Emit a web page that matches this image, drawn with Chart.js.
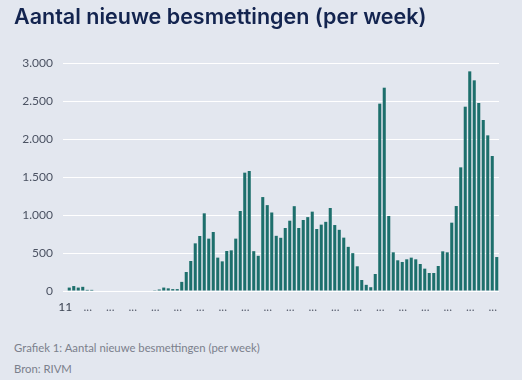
<!DOCTYPE html>
<html>
<head>
<meta charset="utf-8">
<script src="https://cdn.jsdelivr.net/npm/chart.js@4"></script>
<style>
  html, body { margin: 0; padding: 0; background: #e3e7ef; }
  #wrap { position: absolute; left: 0; top: 0; width: 522px; height: 330px; }
  .note { position: absolute; left: 14px; font-family: Lato, sans-serif; font-size: 11.3px; color: #7b808c; }
</style>
</head>
<body>
<div id="wrap"><canvas id="chart"></canvas></div>
<div class="note" style="top: 341px;">Grafiek 1: Aantal nieuwe besmettingen (per week)</div>
<div class="note" style="top: 362px;">Bron: RIVM</div>
<script>
// weeknummers vanaf week 11 (2020)
const weeks = [
    '11','12','13','14','15','16','17','18','19','20','21','22','23','24','25','26','27','28','29','30',
    '31','32','33','34','35','36','37','38','39','40','41','42','43','44','45','46','47','48','49','50',
    '51','52','53','1','2','3','4','5','6','7','8','9','10','11','12','13','14','15','16','17',
    '18','19','20','21','22','23','24','25','26','27','28','29','30','31','32','33','34','35','36','37',
    '38','39','40','41','42','43','44','45','46','47','48','49','50','51','52','1'
];

// nieuwe besmettingen per week
const infections = [
    45, 65, 45, 55, 15, 15, 0, 0, 0, 0, 0, 0, 0, 0, 0, 0, 0, 0, 0, 10,
    20, 45, 35, 25, 25, 120, 250, 395, 627, 724, 1022, 689, 776, 439, 390, 526, 535, 689, 1053, 1557,
    1579, 524, 463, 1236, 1130, 1033, 726, 700, 829, 925, 1116, 829, 934, 972, 1044, 816, 873, 910, 1092, 868,
    805, 702, 581, 498, 325, 145, 81, 50, 224, 2465, 2675, 987, 509, 404, 382, 417, 439, 417, 355, 294,
    237, 237, 329, 522, 509, 899, 1118, 1627, 2425, 2890, 2772, 2474, 2250, 2048, 1776, 447
];

// zichtbare labels onder de x-as (elke 5e week)
const tickLabels = ['11', '...', '...', '...', '...', '...', '...', '...', '...', '...',
                    '...', '...', '...', '...', '...', '...', '...', '...', '...', '...'];

const yTicks = [0, 500, 1000, 1500, 2000, 2500, 3000];

// duizendtallen met een punt
function formatNL(v) {
    return String(v).replace(/\B(?=(\d{3})+(?!\d))/g, '.');
}

const ctx = document.getElementById('chart').getContext('2d');
new Chart(ctx, {
    type: 'bar',
    data: {
        labels: weeks,
        datasets: [{
            label: 'Nieuwe besmettingen',
            data: infections,
            backgroundColor: '#1d6f6c',
            barPercentage: 0.68,
            categoryPercentage: 1.0
        }]
    },
    options: {
        responsive: true,
        maintainAspectRatio: false,
        animation: false,
        layout: { padding: { left: 14, right: 23, top: 0, bottom: 15 } },
        plugins: {
            legend: { display: false },
            tooltip: { enabled: false },
            title: {
                display: true,
                text: 'Aantal nieuwe besmettingen (per week)',
                align: 'start',
                color: '#13244f',
                font: { family: 'Inter', size: 21.5, weight: '600' },
                padding: { top: 5, bottom: 32.2 }
            }
        },
        scales: {
            x: {
                grid: { display: false, drawTicks: false },
                border: { display: false },
                ticks: {
                    autoSkip: false,
                    maxRotation: 0,
                    padding: 9,
                    labelOffset: -4,
                    font: { family: 'Lato', size: 12 },
                    color: c => c.index === 0 ? '#3c4352' : '#5c6272',
                    callback: (v, i) => i % 5 === 0 ? tickLabels[i / 5] : null
                },
                afterFit: axis => { axis.height = 24; }
            },
            y: {
                min: 0,
                max: 3000,
                afterBuildTicks: axis => { axis.ticks = yTicks.map(v => ({ value: v })); },
                grid: { color: '#ffffff', lineWidth: 1, tickLength: 4 },
                border: { display: false },
                ticks: {
                    padding: 10,
                    font: { family: 'Lato', size: 12 },
                    color: '#4b5262',
                    callback: v => formatNL(v)
                },
                afterFit: axis => { axis.width = 53; }
            }
        }
    }
});
</script>
</body>
</html>
